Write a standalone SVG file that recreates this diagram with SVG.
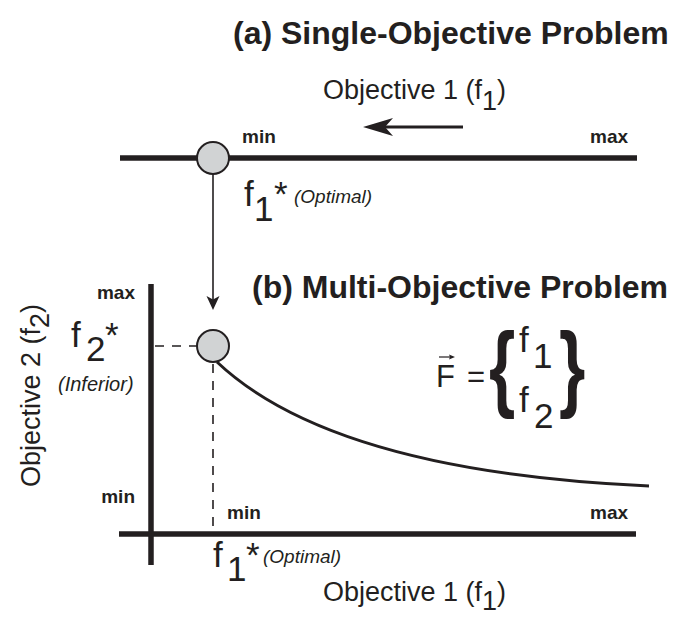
<svg xmlns="http://www.w3.org/2000/svg" width="682" height="617" viewBox="0 0 682 617">
<style>
text{font-family:"Liberation Sans",Arial,sans-serif;fill:#231f20}
.title{font-size:32px;font-weight:bold}
.lbl{font-size:19px;font-weight:bold}
.ax{font-size:27px}
.f{font-size:35px}
.it{font-size:19px;font-style:italic}
.axis{stroke:#231f20;stroke-width:5.5;fill:none}
.dash{stroke:#231f20;stroke-width:1.6;stroke-dasharray:9,8;fill:none}
.pt{fill:#d1d3d4;stroke:#231f20;stroke-width:2}
.brace{font-size:94px;font-weight:bold}
</style>
<rect width="682" height="617" fill="#fff"/>
<g id="title-a"><text class="title" x="233" y="44">(a) Single-Objective Problem</text></g>
<g id="title-b"><text class="title" x="252" y="298">(b) Multi-Objective Problem</text></g>
<g id="axis-a">
<text class="ax" x="323" y="99">Objective 1 (f<tspan dy="11">1</tspan><tspan dy="-11">)</tspan></text>
<line class="axis" x1="120" y1="158" x2="637" y2="158"/>
<text class="lbl" x="242" y="143">min</text>
<text class="lbl" x="590" y="143">max</text>
</g>
<g id="axes-b">
<line class="axis" x1="151" y1="284" x2="151" y2="565"/>
<line class="axis" x1="119" y1="534" x2="636" y2="534"/>
<text class="lbl" x="135" y="299" text-anchor="end">max</text>
<text class="lbl" x="135" y="503" text-anchor="end">min</text>
<text class="lbl" x="227" y="519">min</text>
<text class="lbl" x="590" y="519">max</text>
<text class="ax" transform="translate(40,487) rotate(-90)">Objective 2 (f<tspan dy="9">2</tspan><tspan dy="-9">)</tspan></text>
<text class="ax" x="323" y="601">Objective 1 (f<tspan dy="9">1</tspan><tspan dy="-9">)</tspan></text>
</g>
<g id="label-f1-top"><text class="f" x="244" y="206">f</text><text class="f" x="254" y="221">1</text><text class="f" x="274" y="206">*</text><text class="it" x="294" y="203">(Optimal)</text></g>
<g id="label-f1-bottom"><text class="f" x="213" y="567">f</text><text class="f" x="227" y="581">1</text><text class="f" x="246" y="567">*</text><text class="it" x="263" y="563">(Optimal)</text></g>
<g id="label-f2"><text class="f" x="71" y="347">f</text><text class="f" x="86" y="361">2</text><text class="f" x="105" y="347">*</text><text class="it" x="58" y="391" style="font-size:20px">(Inferior)</text></g>
<g id="formula">
<text class="f" x="436" y="387" style="font-size:31px">F</text>
<line x1="439" y1="357" x2="451" y2="357" stroke="#231f20" stroke-width="1.2"/>
<polygon points="455,357 449,354.5 450,357 449,359.5" fill="#231f20"/>
<text class="f" x="467" y="387" style="font-size:31px">=</text>
<text class="brace" transform="translate(489,399) scale(0.72,1)">{</text>
<text class="f" x="519" y="352">f</text><text class="f" x="533" y="368">1</text>
<text class="f" x="519" y="412">f</text><text class="f" x="534" y="428">2</text>
<text class="brace" transform="translate(559,399) scale(0.72,1)">}</text>
</g>
<g id="connectors">
<line x1="463" y1="127" x2="385" y2="127" stroke="#231f20" stroke-width="3"/>
<polygon points="363,127 393,118 385,127 393,136" fill="#231f20"/>
<line x1="213" y1="174" x2="213" y2="300" stroke="#231f20" stroke-width="1.6"/>
<polygon points="213,310 206.5,296 213,299.5 219.5,296" fill="#231f20"/>
<line class="dash" x1="155" y1="346" x2="197" y2="346"/>
<line class="dash" x1="213" y1="364" x2="213" y2="532"/>
<path d="M217,362 C272,414 385,474 649,486" stroke="#231f20" stroke-width="3" fill="none"/>
</g>
<g id="point-a"><circle class="pt" cx="213" cy="158" r="16"/></g>
<g id="point-b"><circle class="pt" cx="213" cy="346" r="16"/></g>
</svg>
